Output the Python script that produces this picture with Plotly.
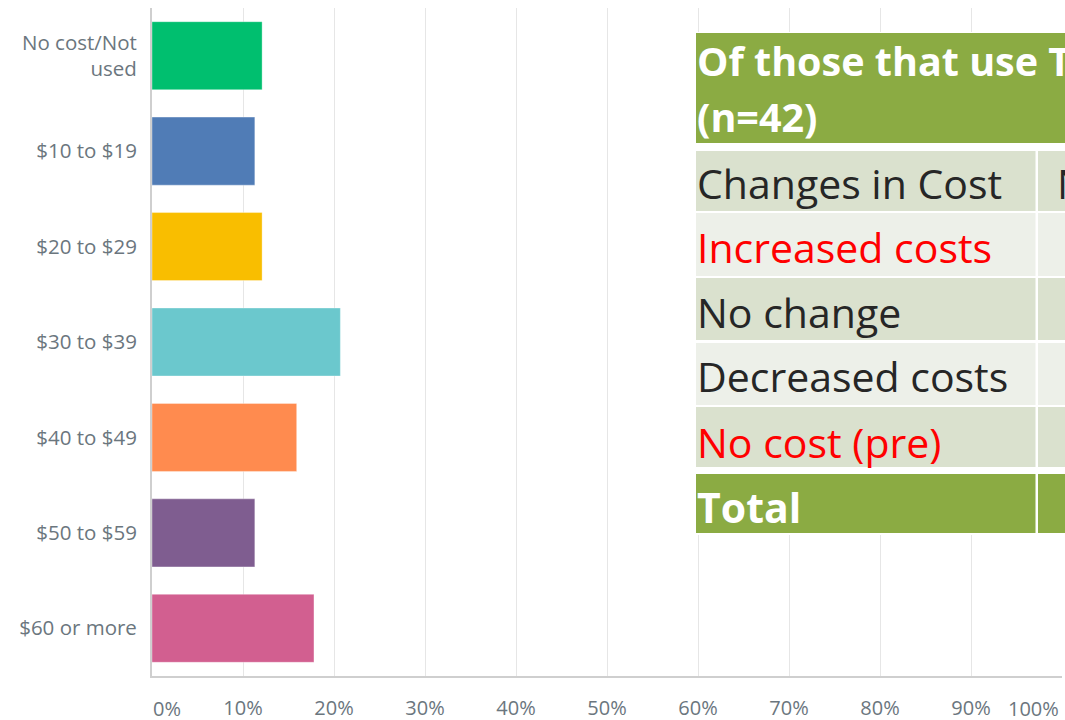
import plotly.graph_objects as go

# ---- data ----
categories = ["No cost/Not<br>used", "$10 to $19", "$20 to $29", "$30 to $39",
              "$40 to $49", "$50 to $59", "$60 or more"]
values = [12.1, 11.3, 12.1, 20.7, 15.9, 11.3, 17.8]
bar_colors = ["#00BF6F", "#507CB6", "#F9BE00", "#6BC8CD", "#FF8B4F", "#7F5D90", "#D25F90"]
tick_vals = [0, 10, 20, 30, 40, 50, 60, 70, 80, 90, 100]
tick_labels = ["0%", "10%", "20%", "30%", "40%", "50%", "60%", "70%", "80%", "90%", "100%"]

# overlay table (cropped in the original)
table_title_lines = ["Of those that use T", "(n=42)"]
table_rows = ["Changes in Cost", "Increased costs", "No change", "Decreased costs", "No cost (pre)", "Total"]
table_col2 = ["N", "", "", "", "", ""]
row_text_colors = ["#262626", "#FF0000", "#262626", "#262626", "#FF0000", "#FFFFFF"]
row_fill = ["#DAE1CE", "#EDF0E9", "#DAE1CE", "#EDF0E9", "#DAE1CE", "#8BAB43"]
row_bold = [False, False, False, False, False, True]
title_fill = "#8BAB43"

# ---- layout geometry (pixels) ----
W, H = 1065, 720
ML, MR, MT, MB = 152, 3, 8, 44
PW, PH = W - ML - MR, H - MT - MB
AXIS_FONT = "Open Sans"
AXIS_COLOR = "#6B767E"


def xp(px):
    return (px - ML) / PW


def yp(py):
    return (H - MB - py) / PH


fig = go.Figure()
fig.add_trace(go.Bar(
    x=values, y=categories, orientation="h",
    marker=dict(color=bar_colors, line=dict(color="rgba(255,255,255,0.35)", width=1)),
    hoverinfo="x+y",
))

shapes = []
annotations = []

# table geometry
tx0, tdiv0, tdiv1, tx1 = 696, 1035.5, 1038, 1120
row_bounds = [(151, 211), (213, 276), (278, 340), (343, 405), (407, 467), (474, 533)]
row_text_y = [183, 247, 312, 376, 442, 507]

# white background behind the table
shapes.append(dict(type="rect", xref="paper", yref="paper", x0=xp(tx0 - 1), x1=xp(tx1),
                   y0=yp(535), y1=yp(32), fillcolor="white", line=dict(width=0), layer="above"))
# title block
shapes.append(dict(type="rect", xref="paper", yref="paper", x0=xp(tx0), x1=xp(tx1),
                   y0=yp(143), y1=yp(33), fillcolor=title_fill, line=dict(width=0), layer="above"))
for (ya, yb), fill in zip(row_bounds, row_fill):
    shapes.append(dict(type="rect", xref="paper", yref="paper", x0=xp(tx0), x1=xp(tdiv0),
                       y0=yp(yb), y1=yp(ya), fillcolor=fill, line=dict(width=0), layer="above"))
    shapes.append(dict(type="rect", xref="paper", yref="paper", x0=xp(tdiv1), x1=xp(tx1),
                       y0=yp(yb), y1=yp(ya), fillcolor=fill, line=dict(width=0), layer="above"))

TFONT = "Open Sans"
TSIZE = 41
for line, ty in zip(table_title_lines, [61, 117]):
    annotations.append(dict(text="<b>%s</b>" % line, xref="paper", yref="paper", x=xp(tx0), y=yp(ty),
                            xanchor="left", yanchor="middle", showarrow=False, borderpad=0,
                            font=dict(family=TFONT, size=39.5, color="white")))
for label, c2, col, bold, ty in zip(table_rows, table_col2, row_text_colors, row_bold, row_text_y):
    txt = "<b>%s</b>" % label if bold else label
    annotations.append(dict(text=txt, xref="paper", yref="paper", x=xp(tx0), y=yp(ty),
                            xanchor="left", yanchor="middle", showarrow=False, borderpad=0,
                            font=dict(family=TFONT, size=TSIZE, color=col)))
    if c2:
        annotations.append(dict(text=c2, xref="paper", yref="paper", x=xp(tdiv1 + 18), y=yp(ty),
                                xanchor="left", yanchor="middle", showarrow=False, borderpad=0,
                                font=dict(family=TFONT, size=TSIZE, color=col)))

# first and last x tick labels are kept inside the plot width
for val, lab, anchor, shift in [(tick_vals[0], tick_labels[0], "left", 0),
                                (tick_vals[-1], tick_labels[-1], "right", -2)]:
    annotations.append(dict(text=lab, xref="x", yref="paper", x=val, y=yp(708),
                            xanchor=anchor, yanchor="middle", showarrow=False, borderpad=0, xshift=shift,
                            font=dict(family=AXIS_FONT, size=20, color=AXIS_COLOR)))

fig.update_layout(
    width=W, height=H,
    margin=dict(l=ML, r=MR, t=MT, b=MB, autoexpand=False),
    paper_bgcolor="white", plot_bgcolor="white",
    bargap=0.287, showlegend=False,
    shapes=shapes, annotations=annotations,
    font=dict(family=AXIS_FONT, color=AXIS_COLOR),
)
fig.update_xaxes(
    range=[0, 100], tickvals=tick_vals, ticktext=[""] + tick_labels[1:-1] + [""],
    showgrid=True, gridcolor="#E6E6E6", gridwidth=1,
    showline=True, linecolor="#CFCFCF", linewidth=2, zeroline=False,
    ticks="", ticklabelstandoff=13, tickfont=dict(family=AXIS_FONT, size=20, color=AXIS_COLOR),
    automargin=False, fixedrange=True,
)
fig.update_yaxes(
    autorange="reversed", showgrid=False,
    showline=True, linecolor="#CFCFCF", linewidth=2,
    ticks="", ticklabelstandoff=9, tickfont=dict(family=AXIS_FONT, size=20.5, color=AXIS_COLOR),
    automargin=False, fixedrange=True,
)

fig.write_html("out.html", config={"displayModeBar": False},
               post_script="document.body.style.margin='0';document.body.style.overflow='hidden';")
